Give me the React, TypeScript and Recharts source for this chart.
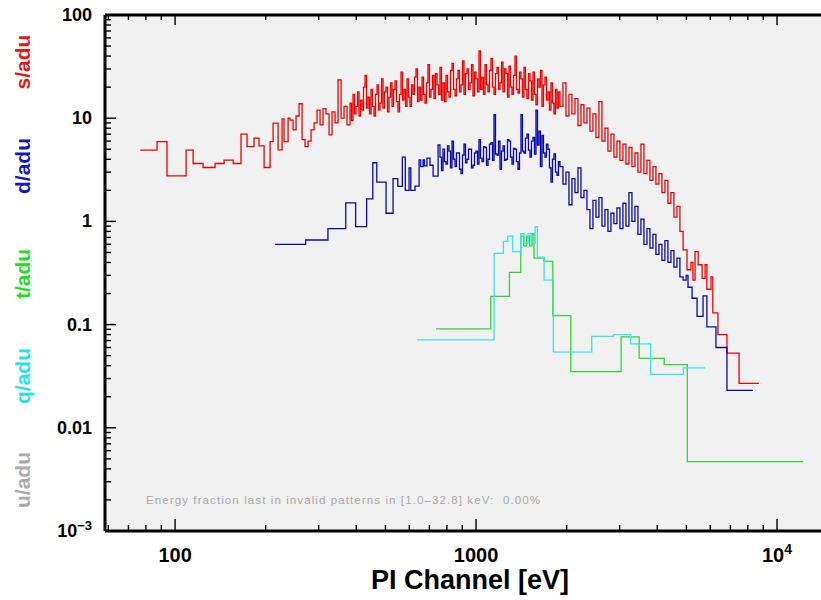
import React from "react";
import { LineChart, Line, XAxis, YAxis } from "recharts";

// s/adu (red): bin start energies [eV], last entry is the end of the last bin
const sEdges = [
  76.6, 87.1, 94.0, 108.8, 114.8, 123.9, 135.8, 145.5, 156.0, 165.6,
  173.4, 182.9, 190.1, 197.6, 206.9, 211.7, 219.9, 226.7, 230.2, 237.4,
  241.0, 246.6, 252.3, 258.2, 264.2, 270.3, 276.6, 283.0, 289.6, 296.3,
  303.2, 310.2, 317.4, 324.8, 332.3, 340.0, 347.9, 356.0, 364.3, 372.7,
  381.4, 385.8, 390.2, 394.7, 399.3, 403.9, 408.5, 413.2, 418.0, 422.8,
  427.7, 432.6, 437.6, 442.7, 447.8, 453.0, 458.2, 463.5, 468.8, 474.2,
  479.7, 485.2, 490.8, 496.5, 502.2, 508.0, 513.9, 519.8, 525.8, 531.9,
  538.0, 544.2, 550.5, 556.9, 563.3, 569.8, 576.3, 583.0, 589.7, 596.5,
  603.4, 610.4, 617.4, 624.5, 631.7, 639.0, 646.4, 653.9, 661.4, 669.0,
  676.7, 684.5, 692.4, 700.4, 708.5, 716.7, 724.9, 733.3, 741.8, 750.4,
  759.0, 767.8, 776.6, 785.6, 794.6, 803.8, 813.1, 822.5, 832.0, 841.6,
  851.3, 861.1, 871.0, 881.1, 891.2, 901.5, 911.9, 922.4, 933.1, 943.9,
  954.7, 965.7, 976.9, 988.2, 999.6, 1011.1, 1022.8, 1034.6, 1046.5, 1058.6,
  1070.8, 1083.2, 1095.7, 1108.3, 1121.1, 1134.0, 1147.1, 1160.3, 1173.7, 1187.2,
  1201.0, 1214.9, 1228.9, 1243.1, 1257.4, 1271.9, 1286.6, 1301.4, 1316.4, 1331.6,
  1347.0, 1362.5, 1378.2, 1394.1, 1410.2, 1426.5, 1442.9, 1459.6, 1476.4, 1493.4,
  1510.7, 1528.1, 1545.8, 1563.6, 1581.6, 1599.9, 1618.3, 1637.0, 1655.9, 1675.0,
  1694.3, 1713.9, 1733.6, 1753.6, 1773.9, 1794.4, 1815.0, 1835.9, 1857.2, 1878.6,
  1900.3, 1944.4, 1989.5, 2035.7, 2082.9, 2131.2, 2180.7, 2231.3, 2283.1, 2336.1,
  2390.3, 2445.8, 2502.5, 2560.6, 2620.0, 2680.8, 2743.0, 2806.7, 2871.8, 2938.5,
  3006.7, 3076.5, 3147.9, 3220.9, 3295.7, 3372.1, 3450.4, 3530.5, 3612.4, 3696.3,
  3782.0, 3869.8, 3959.6, 4051.5, 4145.5, 4241.7, 4340.2, 4440.9, 4544.0, 4649.4,
  4757.3, 4875, 5023, 5176, 5256, 5341, 5470, 5638, 5768, 5848,
  6034, 6120, 6363, 6818, 7480, 8710,
];
const sValues = [
  4.9, 5.93, 2.76, 4.9, 3.64, 3.33, 3.64, 3.92, 3.64, 7.0,
  5.31, 6.4, 5.4, 3.33, 5.93, 8.95, 4.93, 9.84, 5.93, 10.0,
  9.6, 7.7, 10.5, 13.8, 6.2, 5.3, 6.0, 7.7, 9.0, 12.0,
  8.6, 12.4, 11.0, 6.9, 11.5, 9.0, 23.5, 10.0, 13.0, 8.6,
  14, 9.5, 17, 11, 13, 18, 10.5, 15, 12, 20,
  26, 12.5, 16, 11, 19, 13, 10.5, 17, 21, 12,
  14, 24, 12.5, 18, 20, 11.5, 16, 22, 13, 19,
  23, 14.5, 11.5, 17, 28, 15, 19, 13, 24, 16,
  13, 21, 17, 25, 30, 14.5, 20, 15, 25, 17,
  14, 22, 33, 16, 19, 26, 15.5, 27, 21, 17,
  31, 15, 22, 14.5, 26, 18, 16, 29, 34, 19,
  16.5, 24, 29, 18, 21, 36, 17, 27, 30, 19,
  22, 33, 16.5, 28, 24, 18, 45, 19, 25, 17,
  33, 21, 18, 29, 38, 20, 17, 27, 31, 19,
  22, 35, 18, 30, 27, 16, 32, 20, 17, 26,
  40, 19, 17.5, 28, 24, 16, 31, 19, 15.5, 27,
  23, 15, 28, 17, 13.5, 24, 20, 29, 13, 21,
  25, 15, 18, 12, 22, 14, 11, 19, 12.5, 18,
  13.0, 22.0, 10.5, 17.0, 11.0, 15.5, 8.5, 13.5, 9.0, 12.5,
  7.5, 11.0, 6.5, 14.5, 6.0, 8.0, 4.8, 7.0, 4.2, 6.0,
  3.9, 5.6, 3.6, 5.2, 3.4, 4.6, 3.0, 5.6, 2.9, 3.9,
  2.5, 3.4, 2.3, 2.9, 1.9, 2.5, 1.5, 1.9, 1.1, 1.4,
  0.8, 0.53, 0.34, 0.4, 0.27, 0.51, 0.38, 0.28, 0.38, 0.22,
  0.29, 0.13, 0.08, 0.053, 0.027,
];

// d/adu (blue)
const dEdges = [
  215, 271.5, 322, 369, 398, 433, 453.9, 467.9, 502.3, 530,
  549.5, 569, 582, 599, 607, 627, 646.7, 655, 667, 674,
  687, 703, 720, 748,
  759.0, 767.8, 776.6, 785.6, 794.6, 803.8, 813.1, 822.5, 832.0, 841.6,
  851.3, 861.1, 871.0, 881.1, 891.2, 901.5, 911.9, 922.4, 933.1, 943.9,
  954.7, 965.7, 976.9, 988.2, 999.6, 1011.1, 1022.8, 1034.6, 1046.5, 1058.6,
  1070.8, 1083.2, 1095.7, 1108.3, 1121.1, 1134.0, 1147.1, 1160.3, 1173.7, 1187.2,
  1201.0, 1214.9, 1228.9, 1243.1, 1257.4, 1271.9, 1286.6, 1301.4, 1316.4, 1331.6,
  1347.0, 1362.5, 1378.2, 1394.1, 1410.2, 1426.5, 1442.9, 1459.6, 1476.4, 1493.4,
  1510.7, 1528.1, 1545.8, 1563.6, 1581.6, 1599.9, 1618.3, 1637.0, 1655.9, 1675.0,
  1694.3, 1713.9, 1733.6, 1753.6, 1773.9, 1794.4, 1815.0, 1835.9, 1857.2, 1878.6,
  1900.3, 1944.4, 1989.5, 2035.7, 2082.9, 2131.2, 2180.7, 2231.3, 2283.1, 2336.1,
  2390.3, 2445.8, 2502.5, 2560.6, 2620.0, 2680.8, 2743.0, 2806.7, 2871.8, 2938.5,
  3006.7, 3076.5, 3147.9, 3220.9, 3295.7, 3372.1, 3450.4, 3530.5, 3612.4, 3696.3,
  3782.0, 3869.8, 3959.6, 4051.5, 4145.5, 4241.7, 4340.2, 4440.9, 4544.0, 4649.4,
  4757.3, 4875, 4990, 5061, 5220, 5424, 5678, 5848, 6268, 6818,
  8318,
];
const dValues = [
  0.6, 0.66, 0.85, 1.51, 0.89, 1.65, 3.7, 2.4, 1.2, 2.6,
  2.18, 4.2, 2.0, 3.3, 2.0, 2.2, 3.95, 3.4, 3.95, 3.45,
  4.1, 3.5, 2.75, 5.5,
  4.2, 3.1, 5.0, 3.8, 3.6, 5.4, 4.8, 3.3, 6.0, 4.0,
  3.4, 4.6, 4.6, 3.2, 2.9, 4.4, 5.6, 3.7, 4.0, 5.0,
  5.0, 3.3, 3.5, 4.6, 4.8, 3.6, 6.2, 4.1, 3.8, 5.3,
  5.2, 3.5, 4.0, 5.6, 5.8, 3.9, 10.8, 4.5, 4.4, 6.0,
  3.2, 4.8, 5.4, 3.9, 4.0, 6.2, 6.0, 4.2, 3.6, 5.1,
  5.0, 3.8, 3.2, 4.6, 10.8, 4.8, 4.6, 6.4, 7.0, 4.9,
  4.2, 6.0, 6.5, 4.5, 12.0, 5.5, 7.5, 3.4, 6.8, 4.6,
  4.2, 5.6, 5.0, 3.3, 2.4, 4.0, 4.5, 3.0, 2.8, 3.8,
  3.4, 2.3, 3.0, 1.45, 2.6, 1.9, 3.3, 1.7, 2.0, 1.3,
  0.85, 1.6, 1.1, 1.7, 0.9, 1.3, 0.8, 1.2, 0.95, 1.35,
  0.85, 1.5, 0.9, 1.9, 1.0, 1.4, 0.75, 1.05, 0.6, 0.85,
  0.55, 0.75, 0.48, 0.6, 0.42, 0.65, 0.4, 0.52, 0.36, 0.44,
  0.29, 0.27, 0.3, 0.23, 0.18, 0.12, 0.19, 0.095, 0.06, 0.023,
];

// t/adu (green)
const tEdges = [736, 1119, 1291, 1408, 1440, 1472, 1506, 1535, 1558, 1683, 1799, 2065, 3034, 3483, 4218, 5035, 12210];
const tValues = [0.091, 0.188, 0.32, 0.72, 0.58, 0.72, 0.58, 0.76, 0.44, 0.41, 0.122, 0.035, 0.076, 0.047, 0.041, 0.0047];

// q/adu (cyan)
const qEdges = [636, 1148, 1233, 1275, 1324, 1408, 1443, 1489, 1523, 1571, 1599, 1683, 1807, 2423, 2858, 3265, 3804, 4883, 5768];
const qValues = [0.071, 0.49, 0.64, 0.72, 0.51, 0.76, 0.61, 0.76, 0.61, 0.89, 0.45, 0.27, 0.054, 0.077, 0.08, 0.065, 0.033, 0.038];

const xTicks = [
  60, 70, 80, 90, 100, 200, 300, 400, 500, 600, 700, 800, 900,
  1000, 2000, 3000, 4000, 5000, 6000, 7000, 8000, 9000, 10000,
];
const yTicks = [
  0.001, 0.002, 0.003, 0.004, 0.005, 0.006, 0.007, 0.008, 0.009,
  0.01, 0.02, 0.03, 0.04, 0.05, 0.06, 0.07, 0.08, 0.09,
  0.1, 0.2, 0.3, 0.4, 0.5, 0.6, 0.7, 0.8, 0.9,
  1, 2, 3, 4, 5, 6, 7, 8, 9,
  10, 20, 30, 40, 50, 60, 70, 80, 90, 100,
];
const xMajor = [100, 1000, 10000];
const yMajor = [0.001, 0.01, 0.1, 1, 10, 100];

const toSteps = (edges: number[], values: number[]) =>
  edges.map((e, i) => ({ e, v: values[Math.min(i, values.length - 1)] }));

const sData = toSteps(sEdges, sValues);
const dData = toSteps(dEdges, dValues);
const tData = toSteps(tEdges, tValues);
const qData = toSteps(qEdges, qValues);

const FONT = "Liberation Sans, Arial, sans-serif";
const isMajor = (v: number) => Math.abs(Math.log10(v) - Math.round(Math.log10(v))) < 1e-6;

// label-only ticks (drawn in the lower chart)
const LeftLabel = (p: any) => {
  const { x, y, payload } = p;
  const v = payload.value;
  return (
    <text x={x - 13} y={y + 6} textAnchor="end" fontSize={18} fontWeight="bold" fontFamily={FONT}>
      {v === 0.001 ? (
        <>
          <tspan>10</tspan>
          <tspan dy={-7} fontSize={13}>−3</tspan>
        </>
      ) : (
        String(v)
      )}
    </text>
  );
};
const BottomLabel = (p: any) => {
  const { x, y, payload } = p;
  const v = payload.value;
  return (
    <text x={x} y={y + 31} textAnchor="middle" fontSize={20} fontWeight="bold" fontFamily={FONT}>
      {v === 10000 ? (
        <>
          <tspan>10</tspan>
          <tspan dy={-8} fontSize={14}>4</tspan>
        </>
      ) : (
        String(v)
      )}
    </text>
  );
};

// tick-mark-only ticks (drawn in the upper chart)
const LeftMark = (p: any) => {
  const { x, y, payload } = p;
  return (
    <g>
      <line x1={x} x2={x + (isMajor(payload.value) ? 11 : 6)} y1={y} y2={y} stroke="#000" strokeWidth={1.4} />
    </g>
  );
};
const BottomMark = (p: any) => {
  const { x, y, payload } = p;
  return (
    <g>
      <line x1={x} x2={x} y1={y} y2={y - (isMajor(payload.value) ? 12 : 6)} stroke="#000" strokeWidth={1.4} />
    </g>
  );
};
const TopMark = (p: any) => {
  const { x, y, payload } = p;
  return (
    <g>
      <line x1={x} x2={x} y1={y} y2={y + (isMajor(payload.value) ? 10 : 5)} stroke="#000" strokeWidth={1.4} />
    </g>
  );
};

const sideLabels = [
  { text: "s/adu", color: "#e01818", y: 62 },
  { text: "d/adu", color: "#1414c0", y: 166 },
  { text: "t/adu", color: "#22dd22", y: 274 },
  { text: "q/adu", color: "#22e4e4", y: 376 },
  { text: "u/adu", color: "#aaaaaa", y: 480 },
];

const layer: React.CSSProperties = { position: "absolute", left: 0, top: 0 };

export default function App() {
  return (
    <div style={{ position: "absolute", left: 0, top: 0, width: 821, height: 600, background: "#fff", overflow: "hidden" }}>
      {/* plot background */}
      <div style={{ position: "absolute", left: 105, top: 15, width: 716, height: 516, background: "#f1f1f1" }} />
      {sideLabels.map((l) => (
        <div
          key={l.text}
          style={{
            position: "absolute",
            left: 22,
            top: l.y,
            transform: "translate(-50%, -50%) rotate(-90deg)",
            whiteSpace: "nowrap",
            fontFamily: FONT,
            fontWeight: "bold",
            fontSize: 21,
            lineHeight: 1,
            color: l.color,
          }}
        >
          {l.text}
        </div>
      ))}
      <div
        style={{
          position: "absolute",
          left: 146,
          top: 495,
          whiteSpace: "pre",
          fontFamily: FONT,
          fontSize: 11.5,
          letterSpacing: 1.1,
          lineHeight: 1,
          color: "#a8a8a8",
        }}
      >
        {"Energy fraction last in invalid patterns in [1.0–32.8] keV:  0.00%"}
      </div>
      <div
        style={{
          position: "absolute",
          left: 470,
          top: 567,
          transform: "translateX(-50%)",
          whiteSpace: "nowrap",
          fontFamily: FONT,
          fontWeight: "bold",
          fontSize: 27,
          lineHeight: 1,
          color: "#000",
        }}
      >
        PI Channel [eV]
      </div>

      {/* lower chart: s, d, t spectra and the tick labels */}
      <div style={layer}>
        <LineChart width={821} height={600} margin={{ top: 0, right: 0, bottom: 0, left: 0 }}>
          <XAxis xAxisId="b" dataKey="e" type="number" scale="log" domain={[58.5, 14000]} allowDataOverflow ticks={xMajor} interval={0} height={69} tickSize={0} tickMargin={0} tickLine={false} axisLine={false} tick={<BottomLabel />} />
          <XAxis xAxisId="t" orientation="top" dataKey="e" type="number" scale="log" domain={[58.5, 14000]} allowDataOverflow height={15} tick={false} tickLine={false} axisLine={false} />
          <YAxis yAxisId="l" type="number" scale="log" domain={[0.001, 100]} allowDataOverflow ticks={yMajor} interval={0} width={105} tickSize={0} tickMargin={0} tickLine={false} axisLine={false} tick={<LeftLabel />} />
          <Line xAxisId="b" yAxisId="l" data={sData} dataKey="v" type="stepAfter" stroke="#f00000" strokeWidth={1.3} dot={false} isAnimationActive={false} />
          <Line xAxisId="b" yAxisId="l" data={dData} dataKey="v" type="stepAfter" stroke="#0808b0" strokeWidth={1.3} dot={false} isAnimationActive={false} />
          <Line xAxisId="b" yAxisId="l" data={tData} dataKey="v" type="stepAfter" stroke="#33d433" strokeWidth={1.3} dot={false} isAnimationActive={false} />
        </LineChart>
      </div>

      {/* upper chart: frame, tick marks and the q spectrum */}
      <div style={layer}>
        <LineChart width={821} height={600} margin={{ top: 0, right: 0, bottom: 0, left: 0 }}>
          <XAxis xAxisId="b" dataKey="e" type="number" scale="log" domain={[58.5, 14000]} allowDataOverflow ticks={xTicks} interval={0} height={69} tickSize={0} tickMargin={0} tickLine={false} axisLine={{ stroke: "#000", strokeWidth: 3 }} tick={<BottomMark />} />
          <XAxis xAxisId="t" orientation="top" dataKey="e" type="number" scale="log" domain={[58.5, 14000]} allowDataOverflow ticks={xTicks} interval={0} height={15} tickSize={0} tickMargin={0} tickLine={false} axisLine={{ stroke: "#000", strokeWidth: 3 }} tick={<TopMark />} />
          <YAxis yAxisId="l" type="number" scale="log" domain={[0.001, 100]} allowDataOverflow ticks={yTicks} interval={0} width={105} tickSize={0} tickMargin={0} tickLine={false} axisLine={{ stroke: "#000", strokeWidth: 3 }} tick={<LeftMark />} />
          <Line xAxisId="b" yAxisId="l" data={qData} dataKey="v" type="stepAfter" stroke="#33e6e6" strokeWidth={1.3} dot={false} isAnimationActive={false} />
        </LineChart>
      </div>
    </div>
  );
}
